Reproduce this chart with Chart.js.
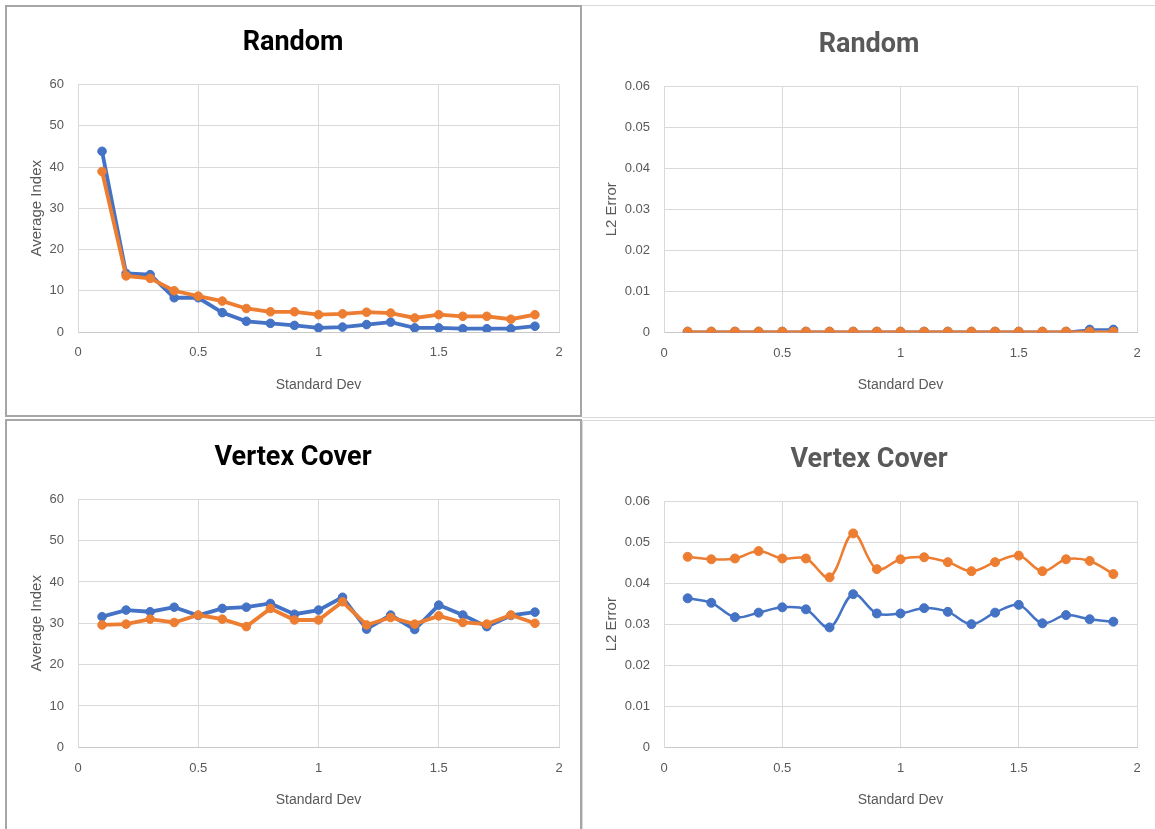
<!DOCTYPE html>
<html><head><meta charset="utf-8">
<script src="https://cdn.jsdelivr.net/npm/chart.js@4/dist/chart.umd.min.js"></script>
<style>
html,body{margin:0;padding:0;background:#fff;width:1155px;height:829px;overflow:hidden;position:relative}
.frame{position:absolute;box-sizing:border-box}
canvas{position:absolute;display:block}
</style></head><body>
<div class="frame" style="left:5px;top:5px;width:577px;height:412px;border:2px solid #a6a6a6"></div>
<div class="frame" style="left:582px;top:5px;width:580px;height:413px;border-top:1px solid #d9d9d9;border-bottom:1px solid #d9d9d9"></div>
<div class="frame" style="left:5px;top:419px;width:577px;height:420px;border:2px solid #a6a6a6"></div>
<div class="frame" style="left:582px;top:420px;width:580px;height:420px;border-top:1px solid #d9d9d9;border-left:1px solid #d9d9d9"></div>
<canvas id="c1" width="572" height="407" style="left:7px;top:7px;width:572px;height:407px"></canvas>
<canvas id="c2" width="572" height="408" style="left:583px;top:7px;width:572px;height:408px"></canvas>
<canvas id="c3" width="572" height="408" style="left:7px;top:421px;width:572px;height:408px"></canvas>
<canvas id="c4" width="572" height="407" style="left:583px;top:422px;width:572px;height:407px"></canvas>
<script>
// ---- data ----
const stdDev = [0.1,0.2,0.3,0.4,0.5,0.6,0.7,0.8,0.9,1.0,1.1,1.2,1.3,1.4,1.5,1.6,1.7,1.8,1.9];

const randomIndexBlue   = [43.8,14.2,13.9,8.3,8.3,4.7,2.6,2.1,1.6,1.0,1.2,1.8,2.4,1.0,1.0,0.8,0.8,0.8,1.4];
const randomIndexOrange = [38.9,13.6,13.0,10.0,8.7,7.5,5.7,4.9,4.9,4.2,4.4,4.8,4.6,3.4,4.2,3.8,3.8,3.1,4.2];

const randomErrBlue   = [0.0002,0.0002,0.0002,0.0002,0.0002,0.0002,0.0002,0.0002,0.0002,0.0002,0.0002,0.0002,0.0002,0.0002,0.0002,0.0002,0.0002,0.0007,0.0007];
const randomErrOrange = [0.0002,0.0002,0.0002,0.0002,0.0002,0.0002,0.0002,0.0002,0.0002,0.0002,0.0002,0.0002,0.0002,0.0002,0.0002,0.0002,0.0002,0.0002,0.0002];

const vcIndexBlue   = [31.6,33.2,32.8,33.9,31.9,33.6,33.9,34.8,32.2,33.2,36.3,28.6,32.0,28.5,34.4,32.0,29.2,31.9,32.7];
const vcIndexOrange = [29.6,29.8,31.0,30.2,32.0,31.0,29.2,33.6,30.8,30.8,35.2,29.6,31.4,29.8,31.8,30.2,29.8,32.0,30.0];

const vcErrBlue   = [0.0363,0.0352,0.0317,0.0328,0.0341,0.0336,0.0292,0.0373,0.0326,0.0326,0.0339,0.0330,0.0300,0.0328,0.0347,0.0302,0.0322,0.0312,0.0306];
const vcErrOrange = [0.0464,0.0458,0.0460,0.0478,0.0460,0.0460,0.0414,0.0521,0.0434,0.0458,0.0463,0.0451,0.0429,0.0451,0.0467,0.0429,0.0458,0.0454,0.0422];

const xTickLabels = ['0','0.5','1','1.5','2'];
const indexTickLabels = ['0','10','20','30','40','50','60'];
const errTickLabels = ['0','0.01','0.02','0.03','0.04','0.05','0.06'];

const titles = ['Random','Random','Vertex Cover','Vertex Cover'];
const xAxisTitle = 'Standard Dev';
const yAxisTitles = ['Average Index','L2 Error'];

// ---- styles ----
const BLUE = '#4472C4', ORANGE = '#ED7D31';
const GRID = '#d9d9d9', TXT = '#595959';
const TITLE_FONT = 'Roboto,"Liberation Sans",sans-serif';
const BODY_FONT = '"Liberation Sans",Arial,sans-serif';

function pts(ys){ return stdDev.map((x,i)=>({x:x,y:ys[i]})); }

function makeChart(id, spec){
  const H = spec.H, W = 572;
  const side = W - spec.plotR;          // equal side padding keeps the title centred
  const tSize = 27, tLH = tSize*1.2;
  const tPadTop = spec.titleC - tLH/2;
  const tPadBot = spec.plotT - tPadTop - tLH;
  const xTitleLH = 14*1.2;
  const yTitleLH = 15*1.2;
  const ds = [
    {label:'Series1', data:pts(spec.blue), borderColor:BLUE, backgroundColor:BLUE,
     borderWidth:spec.lw, pointRadius:spec.pr, pointBorderWidth:1, pointBorderColor:BLUE,
     tension:spec.tension, order:1},
    {label:'Series2', data:pts(spec.orange), borderColor:ORANGE, backgroundColor:ORANGE,
     borderWidth:spec.lw, pointRadius:spec.pr, pointBorderWidth:1, pointBorderColor:ORANGE,
     tension:spec.tension, order:0}
  ];
  new Chart(document.getElementById(id), {
    type:'line',
    data:{datasets:ds},
    options:{
      responsive:false, animation:false,
      layout:{padding:{left:side,top:0,bottom:0,right:side}},
      plugins:{
        legend:{display:false}, tooltip:{enabled:false},
        title:{display:true, text:spec.title, color:spec.titleColor,
          font:{family:TITLE_FONT, size:tSize, weight:'bold', lineHeight:1.2},
          padding:{top:tPadTop, bottom:tPadBot}}
      },
      scales:{
        x:{type:'linear', min:0, max:2,
          afterFit:s=>{s.height = H - spec.plotB;},
          ticks:{stepSize:0.5, padding:13, color:TXT, font:{family:BODY_FONT,size:13},
            callback:(v,i)=>xTickLabels[i]},
          grid:{color:GRID, drawTicks:false, lineWidth:1},
          border:{color:'#c8c8c8', width:1},
          title:{display:true, text:xAxisTitle, color:TXT,
            font:{family:BODY_FONT,size:14,lineHeight:1.2},
            padding:{top:0,bottom:(H - spec.xTitleC) - xTitleLH/2}}
        },
        y:{type:'linear', min:0, max:spec.ymax,
          afterFit:s=>{s.width = spec.plotL - side;},
          ticks:{stepSize:spec.ystep, padding:14, color:TXT, font:{family:BODY_FONT,size:13},
            callback:(v,i)=>spec.yLabels[i]},
          grid:{color:GRID, drawTicks:false, lineWidth:1},
          border:{color:GRID, width:1},
          title:{display:true, text:spec.yTitle, color:TXT,
            font:{family:BODY_FONT,size:15,lineHeight:1.2},
            padding:{top:spec.yTitleC - side - yTitleLH/2, bottom:0}}
        }
      }
    }
  });
}

makeChart('c1',{H:407, plotL:71, plotR:552, plotT:77.5, plotB:325, titleC:36.5, xTitleC:378, yTitleC:30,
  title:titles[0], titleColor:'#000000', blue:randomIndexBlue, orange:randomIndexOrange,
  ymax:60, ystep:10, yLabels:indexTickLabels, yTitle:yAxisTitles[0], lw:3.8, pr:4.3, tension:0});
makeChart('c2',{H:408, plotL:81, plotR:554, plotT:79, plotB:325.5, titleC:38, xTitleC:378, yTitleC:29,
  title:titles[1], titleColor:'#595959', blue:randomErrBlue, orange:randomErrOrange,
  ymax:0.06, ystep:0.01, yLabels:errTickLabels, yTitle:yAxisTitles[1], lw:2.5, pr:4.5, tension:0.35});
makeChart('c3',{H:408, plotL:71, plotR:552, plotT:78.3, plotB:326.3, titleC:37.5, xTitleC:379, yTitleC:30,
  title:titles[2], titleColor:'#000000', blue:vcIndexBlue, orange:vcIndexOrange,
  ymax:60, ystep:10, yLabels:indexTickLabels, yTitle:yAxisTitles[0], lw:3.8, pr:4.3, tension:0});
makeChart('c4',{H:407, plotL:81, plotR:554, plotT:79, plotB:325.3, titleC:37.8, xTitleC:378, yTitleC:29,
  title:titles[3], titleColor:'#595959', blue:vcErrBlue, orange:vcErrOrange,
  ymax:0.06, ystep:0.01, yLabels:errTickLabels, yTitle:yAxisTitles[1], lw:2.5, pr:4.5, tension:0.35});
</script>
</body></html>
